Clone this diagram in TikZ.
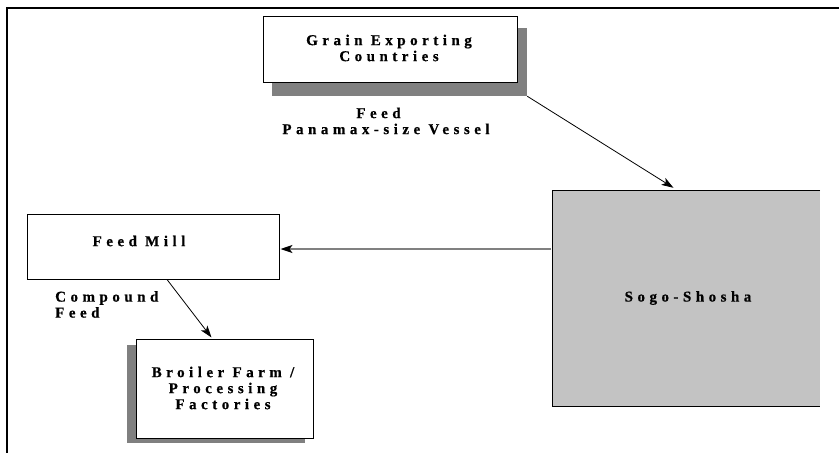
\documentclass[tikz,border=0pt]{standalone}
\usepackage{fontspec}
\setmainfont{Liberation Serif}[LetterSpace=30,BoldFeatures={FakeBold=0.6}]
\usetikzlibrary{arrows.meta,calc}
\definecolor{shade}{RGB}{128,128,128}
\definecolor{panel}{RGB}{195,195,195}
\tikzset{
  box/.style={draw=black,line width=1pt,fill=white,inner sep=0pt},
  shadowbox/.style={fill=shade,draw=none,inner sep=0pt},
  lbl/.style={font=\fontsize{15}{16}\selectfont\bfseries,align=center,inner sep=0pt},
  flow/.style={line width=0.8pt,-{Stealth[length=12pt,width=8pt,inset=3pt,color=black]}},
}
\newcommand{\boxat}[6]{% name, style, x1, y1, x2, y2
  \node[#2,minimum width=#5pt-#3pt,minimum height=#6pt-#4pt] (#1) at ({(#3+#5)/2},{(#4+#6)/2}) {};}
\begin{document}
\begin{tikzpicture}[x=1pt,y=-1pt]
\useasboundingbox (0,0) rectangle (839,453);
% frame
\coordinate (frtl) at (7,8);
\coordinate (frtr) at (839,8);
\coordinate (frbl) at (7,453);
\draw[line width=2pt] (frtr) -- (frtl) -- (frbl);

% grain exporting countries
\boxat{gecsh}{shadowbox}{272}{28}{527}{96}
\boxat{gec}{box}{263}{16}{517}{82}
\node[lbl] (gect) at (389,48) {Grain Exporting\\Countries};
\node[lbl] (vessel) at (386,121) {Feed\hspace*{15pt}\\Panamax-size Vessel};

% sogo-shosha
\boxat{sogo}{fill=panel,draw=none,inner sep=0pt}{553}{191}{820}{406}
\draw[line width=1pt] (sogo.north east) -- (sogo.north west) -- (sogo.south west) -- (sogo.south east);
\node[lbl] (sogot) at (688,298) {Sogo-Shosha};

% feed mill
\boxat{fm}{box}{27}{214}{279}{279}
\node[lbl] (fmt) at (139,241) {Feed Mill};
\node[lbl,align=left,anchor=north west] (cfeed) at (55,291) {Compound\\Feed};

% broiler farm
\boxat{bfsh}{shadowbox}{127}{345}{305}{443}
\boxat{bf}{box}{136}{339}{313}{438}
\node[lbl] (bft) at (223,388) {Broiler Farm /\\Processing\\Factories};

% flows
\draw[flow] (gecsh.south east) -- ($(sogo.north)+(-13,-3)$);
\draw[flow,draw=shade,line width=1.2pt] ([yshift=-2.5pt]sogo.west |- fm.east) ++(-2,0) -- ([yshift=-2.5pt,xshift=1pt]fm.east);
\draw[flow] ($(fm.south)+(14,0)$) -- ($(bf.north)+(-13,-1)$);
\end{tikzpicture}
\end{document}
